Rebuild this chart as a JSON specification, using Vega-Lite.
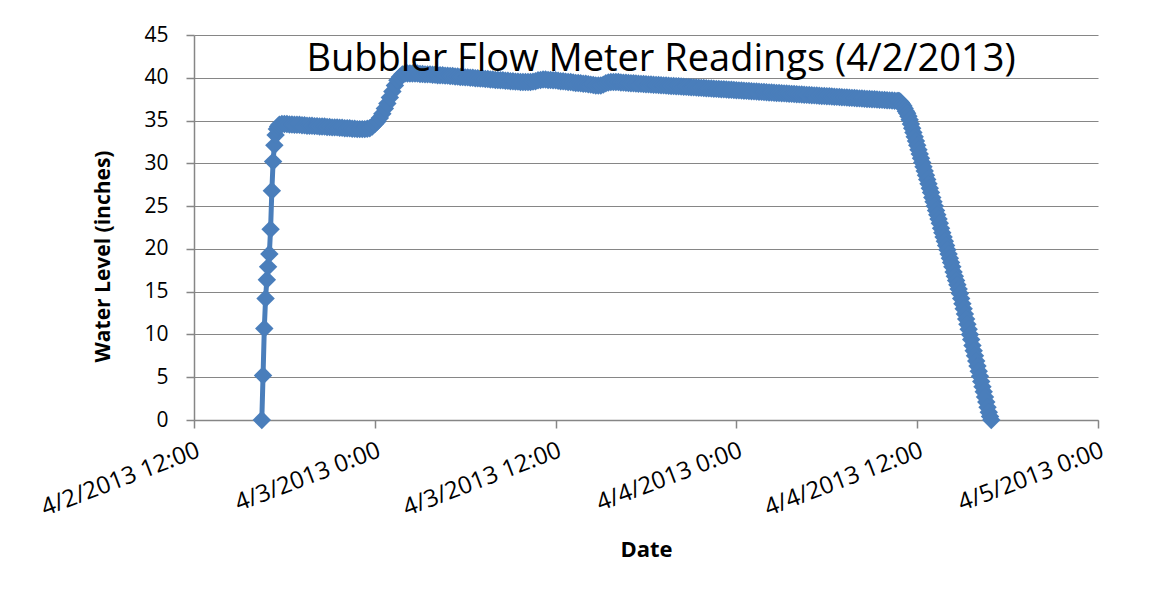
{
"$schema": "https://vega.github.io/schema/vega-lite/v6.json",
"width": 904,
"height": 385,
"autosize": {"type": "none"},
"padding": {"left": 194, "top": 35, "right": 55, "bottom": 178},
"background": "white",
"title": {"text": "Bubbler Flow Meter Readings (4/2/2013)", "font": "Open Sans", "fontSize": 38, "fontWeight": "normal", "color": "black", "anchor": "middle", "frame": "group", "orient": "top", "baseline": "alphabetic", "offset": -35, "dx": 15, "dy": 50},
"config": {"view": {"stroke": null}, "font": "Open Sans"},
"data": {"values": [
{"t":"2013-04-02T16:30","v":0},
{"t":"2013-04-02T16:35","v":5.2},
{"t":"2013-04-02T16:40","v":10.7},
{"t":"2013-04-02T16:45","v":14.2},
{"t":"2013-04-02T16:50","v":16.4},
{"t":"2013-04-02T16:55","v":17.9},
{"t":"2013-04-02T17:00","v":19.4},
{"t":"2013-04-02T17:05","v":22.3},
{"t":"2013-04-02T17:10","v":26.8},
{"t":"2013-04-02T17:15","v":30.2},
{"t":"2013-04-02T17:20","v":32.1},
{"t":"2013-04-02T17:25","v":33.3},
{"t":"2013-04-02T17:30","v":34.0},
{"t":"2013-04-02T17:35","v":34.3},
{"t":"2013-04-02T17:40","v":34.5},
{"t":"2013-04-02T17:50","v":34.6},
{"t":"2013-04-02T18:00","v":34.6},
{"t":"2013-04-02T18:10","v":34.6},
{"t":"2013-04-02T18:20","v":34.55},
{"t":"2013-04-02T18:30","v":34.55},
{"t":"2013-04-02T18:40","v":34.5},
{"t":"2013-04-02T18:50","v":34.5},
{"t":"2013-04-02T19:00","v":34.5},
{"t":"2013-04-02T19:10","v":34.45},
{"t":"2013-04-02T19:20","v":34.45},
{"t":"2013-04-02T19:30","v":34.4},
{"t":"2013-04-02T19:40","v":34.4},
{"t":"2013-04-02T19:50","v":34.4},
{"t":"2013-04-02T20:00","v":34.35},
{"t":"2013-04-02T20:10","v":34.35},
{"t":"2013-04-02T20:20","v":34.3},
{"t":"2013-04-02T20:30","v":34.3},
{"t":"2013-04-02T20:40","v":34.3},
{"t":"2013-04-02T20:50","v":34.25},
{"t":"2013-04-02T21:00","v":34.25},
{"t":"2013-04-02T21:10","v":34.2},
{"t":"2013-04-02T21:20","v":34.2},
{"t":"2013-04-02T21:30","v":34.2},
{"t":"2013-04-02T21:40","v":34.15},
{"t":"2013-04-02T21:50","v":34.15},
{"t":"2013-04-02T22:00","v":34.1},
{"t":"2013-04-02T22:10","v":34.1},
{"t":"2013-04-02T22:20","v":34.1},
{"t":"2013-04-02T22:30","v":34.05},
{"t":"2013-04-02T22:40","v":34.05},
{"t":"2013-04-02T22:50","v":34.0},
{"t":"2013-04-02T23:00","v":34.0},
{"t":"2013-04-02T23:10","v":34.0},
{"t":"2013-04-02T23:20","v":34.0},
{"t":"2013-04-02T23:30","v":34.05},
{"t":"2013-04-02T23:40","v":34.1},
{"t":"2013-04-02T23:50","v":34.3},
{"t":"2013-04-03T00:00","v":34.6},
{"t":"2013-04-03T00:10","v":34.9},
{"t":"2013-04-03T00:20","v":35.3},
{"t":"2013-04-03T00:30","v":35.8},
{"t":"2013-04-03T00:40","v":36.4},
{"t":"2013-04-03T00:50","v":37.0},
{"t":"2013-04-03T01:00","v":37.7},
{"t":"2013-04-03T01:10","v":38.4},
{"t":"2013-04-03T01:20","v":39.1},
{"t":"2013-04-03T01:30","v":39.7},
{"t":"2013-04-03T01:40","v":40.1},
{"t":"2013-04-03T01:50","v":40.4},
{"t":"2013-04-03T02:00","v":40.5},
{"t":"2013-04-03T02:10","v":40.5},
{"t":"2013-04-03T02:20","v":40.5},
{"t":"2013-04-03T02:30","v":40.5},
{"t":"2013-04-03T02:40","v":40.5},
{"t":"2013-04-03T02:50","v":40.5},
{"t":"2013-04-03T03:00","v":40.45},
{"t":"2013-04-03T03:10","v":40.45},
{"t":"2013-04-03T03:20","v":40.4},
{"t":"2013-04-03T03:30","v":40.4},
{"t":"2013-04-03T03:40","v":40.4},
{"t":"2013-04-03T03:50","v":40.35},
{"t":"2013-04-03T04:00","v":40.35},
{"t":"2013-04-03T04:10","v":40.3},
{"t":"2013-04-03T04:20","v":40.3},
{"t":"2013-04-03T04:30","v":40.3},
{"t":"2013-04-03T04:40","v":40.25},
{"t":"2013-04-03T04:50","v":40.25},
{"t":"2013-04-03T05:00","v":40.2},
{"t":"2013-04-03T05:10","v":40.2},
{"t":"2013-04-03T05:20","v":40.15},
{"t":"2013-04-03T05:30","v":40.15},
{"t":"2013-04-03T05:40","v":40.1},
{"t":"2013-04-03T05:50","v":40.1},
{"t":"2013-04-03T06:00","v":40.05},
{"t":"2013-04-03T06:10","v":40.05},
{"t":"2013-04-03T06:20","v":40.0},
{"t":"2013-04-03T06:30","v":40.0},
{"t":"2013-04-03T06:40","v":39.95},
{"t":"2013-04-03T06:50","v":39.95},
{"t":"2013-04-03T07:00","v":39.9},
{"t":"2013-04-03T07:10","v":39.9},
{"t":"2013-04-03T07:20","v":39.85},
{"t":"2013-04-03T07:30","v":39.85},
{"t":"2013-04-03T07:40","v":39.8},
{"t":"2013-04-03T07:50","v":39.8},
{"t":"2013-04-03T08:00","v":39.75},
{"t":"2013-04-03T08:10","v":39.75},
{"t":"2013-04-03T08:20","v":39.7},
{"t":"2013-04-03T08:30","v":39.7},
{"t":"2013-04-03T08:40","v":39.65},
{"t":"2013-04-03T08:50","v":39.65},
{"t":"2013-04-03T09:00","v":39.6},
{"t":"2013-04-03T09:10","v":39.6},
{"t":"2013-04-03T09:20","v":39.55},
{"t":"2013-04-03T09:30","v":39.55},
{"t":"2013-04-03T09:40","v":39.5},
{"t":"2013-04-03T09:50","v":39.5},
{"t":"2013-04-03T10:00","v":39.5},
{"t":"2013-04-03T10:10","v":39.5},
{"t":"2013-04-03T10:20","v":39.5},
{"t":"2013-04-03T10:30","v":39.55},
{"t":"2013-04-03T10:40","v":39.6},
{"t":"2013-04-03T10:50","v":39.7},
{"t":"2013-04-03T11:00","v":39.75},
{"t":"2013-04-03T11:10","v":39.8},
{"t":"2013-04-03T11:20","v":39.8},
{"t":"2013-04-03T11:30","v":39.75},
{"t":"2013-04-03T11:40","v":39.75},
{"t":"2013-04-03T11:50","v":39.7},
{"t":"2013-04-03T12:00","v":39.7},
{"t":"2013-04-03T12:10","v":39.65},
{"t":"2013-04-03T12:20","v":39.6},
{"t":"2013-04-03T12:30","v":39.6},
{"t":"2013-04-03T12:40","v":39.55},
{"t":"2013-04-03T12:50","v":39.5},
{"t":"2013-04-03T13:00","v":39.5},
{"t":"2013-04-03T13:10","v":39.45},
{"t":"2013-04-03T13:20","v":39.4},
{"t":"2013-04-03T13:30","v":39.4},
{"t":"2013-04-03T13:40","v":39.35},
{"t":"2013-04-03T13:50","v":39.3},
{"t":"2013-04-03T14:00","v":39.3},
{"t":"2013-04-03T14:10","v":39.25},
{"t":"2013-04-03T14:20","v":39.2},
{"t":"2013-04-03T14:30","v":39.15},
{"t":"2013-04-03T14:40","v":39.1},
{"t":"2013-04-03T14:50","v":39.1},
{"t":"2013-04-03T15:00","v":39.1},
{"t":"2013-04-03T15:10","v":39.2},
{"t":"2013-04-03T15:20","v":39.35},
{"t":"2013-04-03T15:30","v":39.45},
{"t":"2013-04-03T15:40","v":39.5},
{"t":"2013-04-03T15:50","v":39.5},
{"t":"2013-04-03T16:00","v":39.5},
{"t":"2013-04-03T16:10","v":39.5},
{"t":"2013-04-03T16:20","v":39.45},
{"t":"2013-04-03T16:30","v":39.43},
{"t":"2013-04-03T16:40","v":39.41},
{"t":"2013-04-03T16:50","v":39.39},
{"t":"2013-04-03T17:00","v":39.37},
{"t":"2013-04-03T17:10","v":39.35},
{"t":"2013-04-03T17:20","v":39.33},
{"t":"2013-04-03T17:30","v":39.31},
{"t":"2013-04-03T17:40","v":39.29},
{"t":"2013-04-03T17:50","v":39.27},
{"t":"2013-04-03T18:00","v":39.25},
{"t":"2013-04-03T18:10","v":39.23},
{"t":"2013-04-03T18:20","v":39.21},
{"t":"2013-04-03T18:30","v":39.19},
{"t":"2013-04-03T18:40","v":39.17},
{"t":"2013-04-03T18:50","v":39.15},
{"t":"2013-04-03T19:00","v":39.13},
{"t":"2013-04-03T19:10","v":39.11},
{"t":"2013-04-03T19:20","v":39.09},
{"t":"2013-04-03T19:30","v":39.07},
{"t":"2013-04-03T19:40","v":39.05},
{"t":"2013-04-03T19:50","v":39.04},
{"t":"2013-04-03T20:00","v":39.02},
{"t":"2013-04-03T20:10","v":39.0},
{"t":"2013-04-03T20:20","v":38.98},
{"t":"2013-04-03T20:30","v":38.96},
{"t":"2013-04-03T20:40","v":38.94},
{"t":"2013-04-03T20:50","v":38.92},
{"t":"2013-04-03T21:00","v":38.9},
{"t":"2013-04-03T21:10","v":38.88},
{"t":"2013-04-03T21:20","v":38.86},
{"t":"2013-04-03T21:30","v":38.84},
{"t":"2013-04-03T21:40","v":38.82},
{"t":"2013-04-03T21:50","v":38.8},
{"t":"2013-04-03T22:00","v":38.78},
{"t":"2013-04-03T22:10","v":38.76},
{"t":"2013-04-03T22:20","v":38.74},
{"t":"2013-04-03T22:30","v":38.72},
{"t":"2013-04-03T22:40","v":38.7},
{"t":"2013-04-03T22:50","v":38.69},
{"t":"2013-04-03T23:00","v":38.67},
{"t":"2013-04-03T23:10","v":38.65},
{"t":"2013-04-03T23:20","v":38.63},
{"t":"2013-04-03T23:30","v":38.61},
{"t":"2013-04-03T23:40","v":38.59},
{"t":"2013-04-03T23:50","v":38.57},
{"t":"2013-04-04T00:00","v":38.55},
{"t":"2013-04-04T00:10","v":38.53},
{"t":"2013-04-04T00:20","v":38.51},
{"t":"2013-04-04T00:30","v":38.49},
{"t":"2013-04-04T00:40","v":38.47},
{"t":"2013-04-04T00:50","v":38.45},
{"t":"2013-04-04T01:00","v":38.43},
{"t":"2013-04-04T01:10","v":38.41},
{"t":"2013-04-04T01:20","v":38.39},
{"t":"2013-04-04T01:30","v":38.37},
{"t":"2013-04-04T01:40","v":38.35},
{"t":"2013-04-04T01:50","v":38.33},
{"t":"2013-04-04T02:00","v":38.31},
{"t":"2013-04-04T02:10","v":38.29},
{"t":"2013-04-04T02:20","v":38.27},
{"t":"2013-04-04T02:30","v":38.25},
{"t":"2013-04-04T02:40","v":38.23},
{"t":"2013-04-04T02:50","v":38.22},
{"t":"2013-04-04T03:00","v":38.2},
{"t":"2013-04-04T03:10","v":38.18},
{"t":"2013-04-04T03:20","v":38.16},
{"t":"2013-04-04T03:30","v":38.14},
{"t":"2013-04-04T03:40","v":38.12},
{"t":"2013-04-04T03:50","v":38.1},
{"t":"2013-04-04T04:00","v":38.08},
{"t":"2013-04-04T04:10","v":38.06},
{"t":"2013-04-04T04:20","v":38.04},
{"t":"2013-04-04T04:30","v":38.02},
{"t":"2013-04-04T04:40","v":38.0},
{"t":"2013-04-04T04:50","v":37.98},
{"t":"2013-04-04T05:00","v":37.96},
{"t":"2013-04-04T05:10","v":37.94},
{"t":"2013-04-04T05:20","v":37.92},
{"t":"2013-04-04T05:30","v":37.9},
{"t":"2013-04-04T05:40","v":37.88},
{"t":"2013-04-04T05:50","v":37.87},
{"t":"2013-04-04T06:00","v":37.85},
{"t":"2013-04-04T06:10","v":37.83},
{"t":"2013-04-04T06:20","v":37.81},
{"t":"2013-04-04T06:30","v":37.79},
{"t":"2013-04-04T06:40","v":37.77},
{"t":"2013-04-04T06:50","v":37.75},
{"t":"2013-04-04T07:00","v":37.73},
{"t":"2013-04-04T07:10","v":37.71},
{"t":"2013-04-04T07:20","v":37.69},
{"t":"2013-04-04T07:30","v":37.67},
{"t":"2013-04-04T07:40","v":37.65},
{"t":"2013-04-04T07:50","v":37.63},
{"t":"2013-04-04T08:00","v":37.61},
{"t":"2013-04-04T08:10","v":37.59},
{"t":"2013-04-04T08:20","v":37.57},
{"t":"2013-04-04T08:30","v":37.55},
{"t":"2013-04-04T08:40","v":37.53},
{"t":"2013-04-04T08:50","v":37.52},
{"t":"2013-04-04T09:00","v":37.5},
{"t":"2013-04-04T09:10","v":37.48},
{"t":"2013-04-04T09:20","v":37.46},
{"t":"2013-04-04T09:30","v":37.44},
{"t":"2013-04-04T09:40","v":37.42},
{"t":"2013-04-04T09:50","v":37.4},
{"t":"2013-04-04T10:00","v":37.38},
{"t":"2013-04-04T10:10","v":37.36},
{"t":"2013-04-04T10:20","v":37.34},
{"t":"2013-04-04T10:30","v":37.32},
{"t":"2013-04-04T10:40","v":37.3},
{"t":"2013-04-04T10:45","v":37.3},
{"t":"2013-04-04T10:50","v":37.25},
{"t":"2013-04-04T10:55","v":37.1},
{"t":"2013-04-04T11:00","v":36.9},
{"t":"2013-04-04T11:05","v":36.7},
{"t":"2013-04-04T11:10","v":36.4},
{"t":"2013-04-04T11:15","v":36.1},
{"t":"2013-04-04T11:20","v":35.85},
{"t":"2013-04-04T11:25","v":35.5},
{"t":"2013-04-04T11:30","v":35.1},
{"t":"2013-04-04T11:35","v":34.6},
{"t":"2013-04-04T11:40","v":34.1},
{"t":"2013-04-04T11:45","v":33.6},
{"t":"2013-04-04T11:50","v":33.1},
{"t":"2013-04-04T11:55","v":32.6},
{"t":"2013-04-04T12:00","v":32.1},
{"t":"2013-04-04T12:05","v":31.6},
{"t":"2013-04-04T12:10","v":31.1},
{"t":"2013-04-04T12:15","v":30.6},
{"t":"2013-04-04T12:20","v":30.1},
{"t":"2013-04-04T12:25","v":29.6},
{"t":"2013-04-04T12:30","v":29.1},
{"t":"2013-04-04T12:35","v":28.6},
{"t":"2013-04-04T12:40","v":28.1},
{"t":"2013-04-04T12:45","v":27.6},
{"t":"2013-04-04T12:50","v":27.1},
{"t":"2013-04-04T12:55","v":26.6},
{"t":"2013-04-04T13:00","v":26.0},
{"t":"2013-04-04T13:05","v":25.5},
{"t":"2013-04-04T13:10","v":25.0},
{"t":"2013-04-04T13:15","v":24.5},
{"t":"2013-04-04T13:20","v":24.0},
{"t":"2013-04-04T13:25","v":23.5},
{"t":"2013-04-04T13:30","v":23.0},
{"t":"2013-04-04T13:35","v":22.4},
{"t":"2013-04-04T13:40","v":21.9},
{"t":"2013-04-04T13:45","v":21.4},
{"t":"2013-04-04T13:50","v":20.9},
{"t":"2013-04-04T13:55","v":20.4},
{"t":"2013-04-04T14:00","v":19.9},
{"t":"2013-04-04T14:05","v":19.4},
{"t":"2013-04-04T14:10","v":18.9},
{"t":"2013-04-04T14:15","v":18.4},
{"t":"2013-04-04T14:20","v":17.9},
{"t":"2013-04-04T14:25","v":17.3},
{"t":"2013-04-04T14:30","v":16.8},
{"t":"2013-04-04T14:35","v":16.3},
{"t":"2013-04-04T14:40","v":15.8},
{"t":"2013-04-04T14:45","v":15.3},
{"t":"2013-04-04T14:50","v":14.8},
{"t":"2013-04-04T14:55","v":14.2},
{"t":"2013-04-04T15:00","v":13.6},
{"t":"2013-04-04T15:05","v":13.0},
{"t":"2013-04-04T15:10","v":12.4},
{"t":"2013-04-04T15:15","v":11.8},
{"t":"2013-04-04T15:20","v":11.2},
{"t":"2013-04-04T15:25","v":10.6},
{"t":"2013-04-04T15:30","v":10.0},
{"t":"2013-04-04T15:35","v":9.4},
{"t":"2013-04-04T15:40","v":8.7},
{"t":"2013-04-04T15:45","v":8.1},
{"t":"2013-04-04T15:50","v":7.5},
{"t":"2013-04-04T15:55","v":6.9},
{"t":"2013-04-04T16:00","v":6.3},
{"t":"2013-04-04T16:05","v":5.7},
{"t":"2013-04-04T16:10","v":5.1},
{"t":"2013-04-04T16:15","v":4.5},
{"t":"2013-04-04T16:20","v":3.9},
{"t":"2013-04-04T16:25","v":3.3},
{"t":"2013-04-04T16:30","v":2.7},
{"t":"2013-04-04T16:35","v":2.1},
{"t":"2013-04-04T16:40","v":1.5},
{"t":"2013-04-04T16:45","v":0.9},
{"t":"2013-04-04T16:50","v":0.4},
{"t":"2013-04-04T16:55","v":0}
]},
"encoding": {
  "x": {"field": "t", "type": "temporal",
    "scale": {"domain": [{"year": 2013, "month": 4, "date": 2, "hours": 12}, {"year": 2013, "month": 4, "date": 5, "hours": 0}], "nice": false},
    "axis": {
      "values": [{"year": 2013, "month": 4, "date": 2, "hours": 12}, {"year": 2013, "month": 4, "date": 3, "hours": 0}, {"year": 2013, "month": 4, "date": 3, "hours": 12}, {"year": 2013, "month": 4, "date": 4, "hours": 0}, {"year": 2013, "month": 4, "date": 4, "hours": 12}, {"year": 2013, "month": 4, "date": 5, "hours": 0}],
      "format": "%-m/%-d/%Y %-H:%M",
      "labelAngle": -21, "labelFontSize": 24, "labelColor": "black", "labelFont": "Open Sans",
      "labelPadding": 10, "labelFlush": false, "labelOverlap": false, "labelBound": false,
      "grid": false, "tickSize": 8, "tickColor": "#868686", "tickWidth": 1.5,
      "domainColor": "#868686", "domainWidth": 1.5,
      "title": "Date", "titleFontSize": 22, "titleFontWeight": "bold", "titleColor": "black", "titleFont": "Open Sans",
      "titleY": 129, "titleBaseline": "middle"
    }
  },
  "y": {"field": "v", "type": "quantitative",
    "scale": {"domain": [0, 45], "nice": false},
    "axis": {
      "values": [0, 5, 10, 15, 20, 25, 30, 35, 40, 45],
      "labelFontSize": 21, "labelColor": "black", "labelFont": "Open Sans", "labelPadding": 18,
      "grid": true, "gridColor": "#868686", "gridWidth": 1.2,
      "tickSize": 8, "tickColor": "#868686", "tickWidth": 1.5,
      "domainColor": "#868686", "domainWidth": 1.5,
      "title": "Water Level (inches)", "titleFontSize": 21, "titleFontWeight": "bold", "titleColor": "black", "titleFont": "Open Sans",
      "titleX": -91, "titleY": 221, "titleBaseline": "middle", "titleAlign": "center", "titleAngle": -90
    }
  }
},
"layer": [
  {"mark": {"type": "line", "color": "#4A7EBB", "strokeWidth": 5}},
  {"mark": {"type": "point", "shape": "diamond", "filled": true, "size": 340, "color": "#4A7EBB", "opacity": 1}}
]
}
